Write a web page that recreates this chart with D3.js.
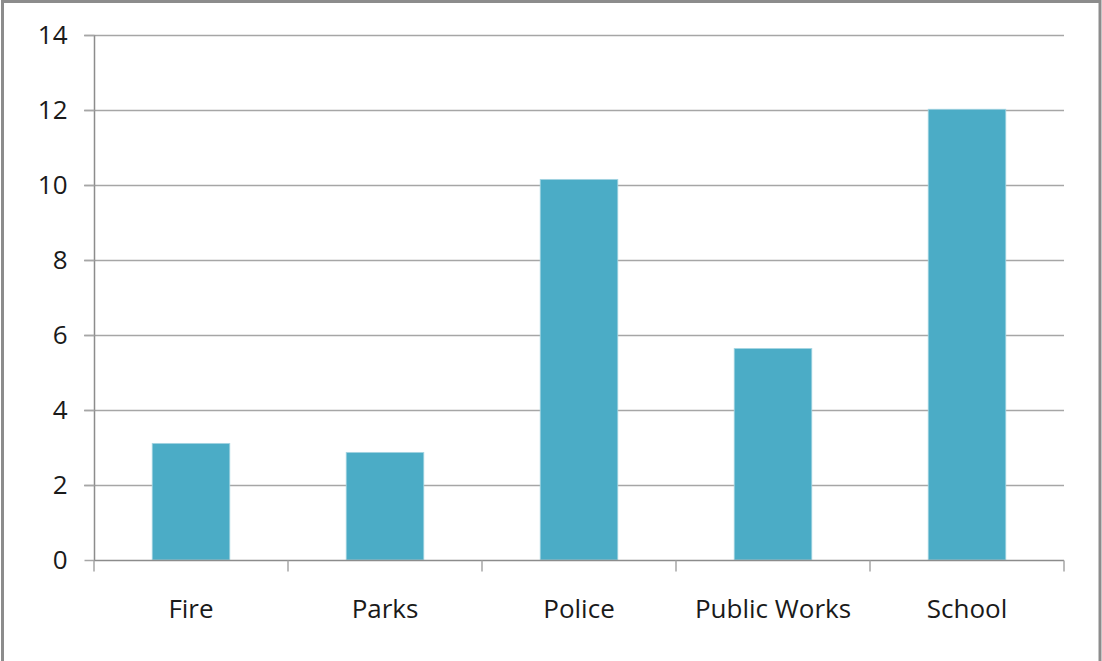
<!DOCTYPE html>
<html><head><meta charset="utf-8">
<script src="https://cdn.jsdelivr.net/npm/d3@7"></script>
<style>
html,body{margin:0;padding:0;background:#fff;}
svg{display:block;}
</style></head>
<body>
<script>
const categories = ["Fire", "Parks", "Police", "Public Works", "School"];
const values = [3.11, 2.87, 10.15, 5.64, 12.02];
const yTicks = [0, 2, 4, 6, 8, 10, 12, 14];

(function () {
const W = 1102, H = 661;
const svg = d3.select("body").append("svg").attr("width", W).attr("height", H);

// frame
svg.append("rect").attr("x", 2.5).attr("y", 1.5).attr("width", W - 4.5).attr("height", H + 10)
  .attr("fill", "#fff").attr("stroke", "#8c8c8c").attr("stroke-width", 3);

const pl = 94, pr = 1064, pt = 35, pb = 560;
const x = d3.scaleBand().domain(categories).range([pl, pr]).padding(0);
const y = d3.scaleLinear().domain([0, 14]).range([pb, pt]);

const font = "'Open Sans', Lato, sans-serif";

// gridlines
svg.append("g").selectAll("line").data(yTicks.filter(d => d > 0)).join("line")
  .attr("x1", pl - 10).attr("x2", pr)
  .attr("y1", d => y(d) + 0.5).attr("y2", d => y(d) + 0.5)
  .attr("stroke", "#a6a6a6").attr("stroke-width", 1.5);

// bars
const bw = x.bandwidth() * 0.4;
svg.append("g").selectAll("rect").data(categories).join("rect")
  .attr("x", d => x(d) + (x.bandwidth() - bw) / 2)
  .attr("width", bw)
  .attr("y", (d, i) => y(values[i]))
  .attr("height", (d, i) => y(0) - y(values[i]))
  .attr("fill", "#4bacc6").attr("stroke", "#a5d5e2").attr("stroke-width", 0.8);

// y axis
const yAxis = d3.axisLeft(y).tickValues(yTicks).tickSize(10).tickPadding(17).tickFormat(d3.format("d"));
const gy = svg.append("g").attr("transform", `translate(${pl + 0.5},0)`).call(yAxis);
gy.select(".domain").attr("stroke", "#8c8c8c").attr("stroke-width", 1.5).attr("d", `M0,${pt}V${pb}`);
gy.selectAll(".tick line").attr("stroke", "#a6a6a6").attr("stroke-width", 1.5);
gy.selectAll(".tick text").attr("font-family", font).attr("font-size", 26).attr("fill", "#1a1a1a");

// x axis
const xAxis = d3.axisBottom(x).tickSize(0).tickPadding(39);
const gx = svg.append("g").attr("transform", `translate(0,${pb + 0.5})`).call(xAxis);
gx.select(".domain").attr("stroke", "#8c8c8c").attr("stroke-width", 1.5).attr("d", `M${pl},0H${pr}`);
gx.selectAll(".tick text").attr("font-family", font).attr("font-size", 26).attr("fill", "#1a1a1a");
// category boundary ticks
const bounds = categories.map(c => x(c)).concat([pr]);
gx.append("g").selectAll("line").data(bounds).join("line")
  .attr("x1", d => d).attr("x2", d => d).attr("y1", 0).attr("y2", 11)
  .attr("stroke", "#a6a6a6").attr("stroke-width", 1.5);
})();
</script>
</body></html>
